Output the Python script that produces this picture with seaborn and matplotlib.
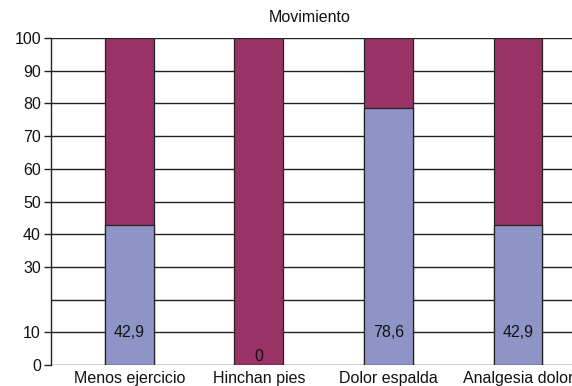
import matplotlib
matplotlib.use("Agg")
import matplotlib.pyplot as plt
import seaborn as sns
import pandas as pd

categories = ["Menos ejercicio", "Hinchan pies", "Dolor espalda", "Analgesia dolor"]
si_values = [42.9, 0, 78.6, 42.9]
total_values = [100, 100, 100, 100]
value_labels = ["42,9", "0", "78,6", "42,9"]

sns.set_theme(style="white")
plt.rcParams["font.family"] = ["Liberation Sans", "DejaVu Sans"]

FS = 11.5

df = pd.DataFrame({"cat": categories, "si": si_values, "total": total_values})

fig = plt.figure(figsize=(5.72, 3.86), dpi=100)
ax = fig.add_axes([50.7 / 572, 1 - 365 / 386, 1 - 50.7 / 572, (365 - 38) / 386])

# horizontal grid behind the bars
for y in range(0, 101, 10):
    ax.axhline(y, color="#222222", lw=1.0, zorder=0)

sns.barplot(data=df, x="cat", y="total", color="#993366", width=0.378,
            edgecolor="#222222", linewidth=0.9, saturation=1, ax=ax, zorder=2)
sns.barplot(data=df, x="cat", y="si", color="#8f94c7", width=0.378,
            edgecolor="#222222", linewidth=0.9, saturation=1, ax=ax, zorder=3)

for i, (v, lab) in enumerate(zip(si_values, value_labels)):
    ax.text(i, 10 if v > 0 else 2.6, lab, ha="center", va="center",
            fontsize=FS, color="#111111", zorder=5)

ax.set_xlim(-0.608, 3.417)
ax.set_ylim(0, 100)
ax.set_yticks([0, 10, 30, 40, 50, 60, 70, 80, 90, 100])
ax.tick_params(axis="y", length=5, width=1, color="#222222", pad=2,
               labelsize=FS, labelcolor="#111111", left=True)
ax.tick_params(axis="x", length=0, pad=4, labelsize=FS, labelcolor="#111111")
ax.set_xlabel("")
ax.set_ylabel("")

for side in ["top", "right", "bottom"]:
    ax.spines[side].set_visible(False)
ax.spines["left"].set_color("#222222")
ax.spines["left"].set_linewidth(1.0)
ax.spines["left"].set_zorder(4)

fig.text(310 / 572, 1 - 18 / 386, "Movimiento", ha="center", va="center",
         fontsize=FS, color="#111111")

fig.savefig("out.png", dpi=100)
